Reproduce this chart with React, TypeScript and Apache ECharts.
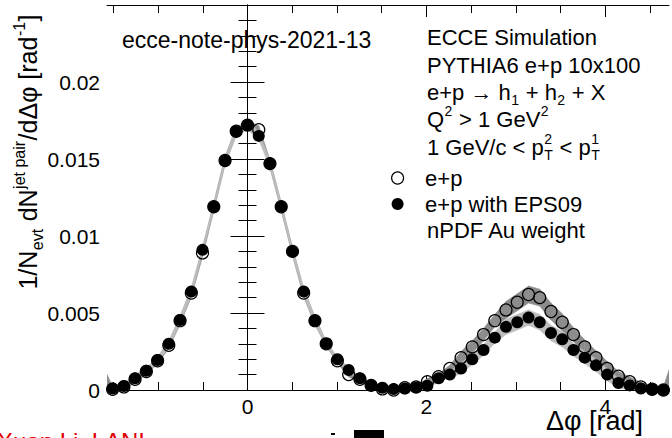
import React, { useEffect, useRef } from 'react';
import * as echarts from 'echarts';

// Δφ bin centres [rad]
const dphi = [
  -1.508, -1.382, -1.257, -1.131, -1.005, -0.880, -0.754, -0.628, -0.503, -0.377,
  -0.251, -0.126, 0.000, 0.126, 0.251, 0.377, 0.503, 0.628, 0.754, 0.880,
  1.005, 1.131, 1.257, 1.382, 1.508, 1.634, 1.759, 1.885, 2.011, 2.136,
  2.262, 2.388, 2.513, 2.639, 2.765, 2.890, 3.016, 3.142, 3.267, 3.393,
  3.519, 3.644, 3.770, 3.896, 4.021, 4.147, 4.273, 4.398, 4.524, 4.650,
];

// e+p (open circles)
const epY = [
  0.00005, 0.0002, 0.0007, 0.0012, 0.0019, 0.0029, 0.0045, 0.0063, 0.0089, 0.0119,
  0.0149, 0.0168, 0.0172, 0.0169, 0.0147, 0.0119, 0.0090, 0.0063, 0.0045, 0.0030,
  0.0019, 0.0010, 0.0007, 0.0003, 0.00007, 0.0, 0.00015, 0.0002, 0.00054, 0.00086,
  0.0014, 0.0021, 0.0028, 0.0036, 0.0045, 0.0052, 0.0057, 0.0062, 0.0060, 0.0051,
  0.0044, 0.0036, 0.0028, 0.0021, 0.0014, 0.0009, 0.00054, 0.0002, 0.00005, 0.0,
];

// e+p with EPS09 nPDF Au weight (filled circles)
const epsY = [
  0.0001, 0.00026, 0.00076, 0.00125, 0.00195, 0.0030, 0.00455, 0.0064, 0.0091, 0.0119,
  0.0149, 0.0168, 0.0172, 0.0165, 0.0147, 0.0119, 0.0090, 0.0064, 0.0045, 0.0030,
  0.0020, 0.0013, 0.00076, 0.00032, 0.00015, 0.00006, 0.0001, 0.00017, 0.00028, 0.00076,
  0.0010, 0.0014, 0.0020, 0.0026, 0.0034, 0.0041, 0.0044, 0.0047, 0.0044, 0.0037,
  0.0033, 0.0026, 0.0021, 0.0016, 0.0010, 0.00045, 0.0003, 0.0001, 0.00005, 0.0,
];

// half-widths of the grey uncertainty bands
const epBand = [
  0.0002, 0.0002, 0.0002, 0.0002, 0.0002, 0.0002, 0.00025, 0.00025, 0.00025, 0.00025,
  0.00025, 0.00025, 0.0003, 0.00025, 0.00025, 0.00025, 0.00025, 0.00025, 0.00025, 0.00015,
  0.00015, 0.00015, 0.00015, 0.00015, 0.0001, 0.0001, 0.0001, 0.0001, 0.0002, 0.0002,
  0.0002, 0.0004, 0.0004, 0.0004, 0.0004, 0.00055, 0.00055, 0.00055, 0.00055, 0.00055,
  0.00055, 0.00045, 0.00045, 0.00045, 0.00045, 0.0003, 0.0003, 0.0003, 0.0002, 0.0002,
];
const epsBand = [
  0.0002, 0.0002, 0.0002, 0.0002, 0.0002, 0.0002, 0.00025, 0.00025, 0.00025, 0.00025,
  0.00025, 0.00025, 0.0003, 0.00025, 0.00025, 0.00025, 0.00025, 0.00025, 0.00025, 0.00015,
  0.00015, 0.00015, 0.00015, 0.00015, 0.0001, 0.0001, 0.0001, 0.0001, 0.0002, 0.0002,
  0.0002, 0.00035, 0.00035, 0.00035, 0.00035, 0.0005, 0.0005, 0.0005, 0.0005, 0.0005,
  0.0005, 0.0004, 0.0004, 0.0004, 0.0004, 0.0003, 0.0003, 0.0003, 0.0002, 0.0002,
];
// band values at the histogram edges (Δφ = -π/2 and 3π/2): [x, low, high]
const bandEdgeLeft = [-1.5708, 0.0, 0.0010];
const bandEdgeRight = [4.7124, 0.0, 0.0013];

const xMajorTicks = [0, 2, 4];
const xMinorTicks = [-1.5, -1, -0.5, 0.5, 1, 1.5, 2.5, 3, 3.5, 4.5];
const yMin = 0;
const yMax = 0.025;
const yStep = 0.005;

const FONT = '"Liberation Sans", Arial, Helvetica, sans-serif';

let mctx: CanvasRenderingContext2D | null = null;
function measure(t: string, size: number): number {
  if (!mctx) mctx = document.createElement('canvas').getContext('2d');
  if (!mctx) return t.length * size * 0.55;
  mctx.font = `${size}px ${FONT}`;
  return mctx.measureText(t).width;
}

type Part = { t: string; k?: 'n' | 'sub' | 'sup' } | { sup: string; sub: string };

function layout(parts: Part[], x0: number, y0: number, size: number, small: number, dSub: number, dSup: number) {
  const els: any[] = [];
  let x = x0;
  const txt = (text: string, px: number, py: number, fs: number) => ({
    type: 'text',
    x: px,
    y: py,
    silent: true,
    style: { text, fontSize: fs, fontFamily: FONT, fill: '#000', align: 'left', verticalAlign: 'middle' },
  });
  for (const p of parts) {
    if ('sup' in p) {
      els.push(txt(p.sup, x + 0.5, y0 + dSup, small));
      els.push(txt(p.sub, x + 0.5, y0 + dSub, small));
      x += Math.max(measure(p.sup, small), measure(p.sub, small)) + 1;
    } else {
      const k = p.k || 'n';
      if (k === 'n') {
        els.push(txt(p.t, x, y0, size));
        x += measure(p.t, size);
      } else {
        els.push(txt(p.t, x + 0.5, y0 + (k === 'sub' ? dSub : dSup), small));
        x += measure(p.t, small) + 1;
      }
    }
  }
  return { els, width: x - x0 };
}

function buildGraphics() {
  const g: any[] = [];
  const X = 427;
  const S = 22;
  const s = 14;
  g.push({
    type: 'text', x: 122, y: 40, silent: true,
    style: { text: 'ecce-note-phys-2021-13', fontSize: 23, fontFamily: FONT, fill: '#000', align: 'left', verticalAlign: 'middle' },
  });
  const lines: [number, Part[]][] = [
    [37, [{ t: 'ECCE Simulation' }]],
    [65, [{ t: 'PYTHIA6 e+p 10x100' }]],
    [92, [{ t: 'e+p \u2192 h' }, { t: '1', k: 'sub' }, { t: ' + h' }, { t: '2', k: 'sub' }, { t: ' + X' }]],
    [119, [{ t: 'Q' }, { t: '2', k: 'sup' }, { t: ' > 1 GeV' }, { t: '2', k: 'sup' }]],
    [147, [{ t: '1 GeV/c < p' }, { sup: '2', sub: 'T' }, { t: ' < p' }, { sup: '1', sub: 'T' }]],
    [230, [{ t: 'nPDF Au weight' }]],
  ];
  for (const [y, parts] of lines) {
    g.push(...layout(parts, X, y, S, s, 8, -8).els);
  }
  const tparts: Part[] = [
    { t: '1/N' }, { t: 'evt', k: 'sub' }, { t: ' dN' }, { t: 'jet pair', k: 'sup' },
    { t: '/d\u0394\u03c6 [rad' }, { t: '-1', k: 'sup' }, { t: ']' },
  ];
  const first = layout(tparts, 0, 0, 25, 16, 9, -9);
  const t2 = layout(tparts, -first.width / 2, 0, 25, 16, 9, -9);
  g.push({ type: 'group', x: 28, y: 152, rotation: Math.PI / 2, children: t2.els });
  g.push({
    type: 'text', x: 643, y: 421, silent: true,
    style: { text: '\u0394\u03c6 [rad]', fontSize: 27, fontFamily: FONT, fill: '#000', align: 'right', verticalAlign: 'middle' },
  });
  g.push({
    type: 'text', x: -3, y: 429, silent: true,
    style: { text: 'Xuan Li, LANL', fontSize: 24, fontFamily: FONT, fill: '#e00000', align: 'left', verticalAlign: 'top' },
  });
  g.push({ type: 'rect', silent: true, shape: { x: 354, y: 430, width: 30, height: 12 }, style: { fill: '#000' } });
  g.push({ type: 'rect', silent: true, shape: { x: 331, y: 433, width: 4, height: 2 }, style: { fill: '#000' } });
  return g;
}

function bandSeries(ys: number[], half: number[], color: string, z: number, withEdges: boolean) {
  const bx: number[] = [];
  const lo: number[] = [];
  const hi: number[] = [];
  if (withEdges) { bx.push(bandEdgeLeft[0]); lo.push(bandEdgeLeft[1]); hi.push(bandEdgeLeft[2]); }
  dphi.forEach((x, i) => { bx.push(x); lo.push(ys[i] - half[i]); hi.push(ys[i] + half[i]); });
  if (withEdges) { bx.push(bandEdgeRight[0]); lo.push(bandEdgeRight[1]); hi.push(bandEdgeRight[2]); }
  return {
    type: 'custom',
    z,
    silent: true,
    clip: true,
    xAxisIndex: 0,
    yAxisIndex: 0,
    encode: { x: 0, y: [1, 2] },
    data: bx.map((x, i) => [x, lo[i], hi[i]]),
    renderItem: (params: any, api: any) => {
      const i = params.dataIndex;
      if (i >= bx.length - 1) return null;
      const pts = [
        api.coord([bx[i], lo[i]]),
        api.coord([bx[i + 1], lo[i + 1]]),
        api.coord([bx[i + 1], hi[i + 1]]),
        api.coord([bx[i], hi[i]]),
      ];
      return {
        type: 'polygon',
        shape: { points: pts },
        style: { fill: color, stroke: color, lineWidth: 0.6 },
      };
    },
  };
}

export default function App() {
  const ref = useRef<HTMLDivElement>(null);
  useEffect(() => {
    document.body.style.margin = '0';
    if (!ref.current) return;
    const chart = echarts.init(ref.current, null, { renderer: 'svg' });
    const xRange = { min: -Math.PI / 2, max: (3 * Math.PI) / 2 };
    const axisLineStyle = { show: true, lineStyle: { color: '#000', width: 1 } };
    const labelStyle = { color: '#000', fontSize: 21, fontFamily: FONT };
    const option: any = {
      animation: false,
      backgroundColor: '#fff',
      grid: { left: 107, right: 3, top: 5, bottom: 48, containLabel: false, outerBoundsMode: 'none' },
      xAxis: [
        {
          type: 'value', ...xRange, position: 'bottom',
          axisLine: axisLineStyle,
          axisTick: { show: true, inside: true, length: 14, customValues: xMajorTicks, lineStyle: { color: '#000' } },
          axisLabel: { show: true, customValues: xMajorTicks, margin: 6, ...labelStyle },
          splitLine: { show: false },
        },
        {
          type: 'value', ...xRange, position: 'bottom',
          axisLine: { show: false },
          axisTick: { show: true, inside: true, length: 8, customValues: xMinorTicks, lineStyle: { color: '#000' } },
          axisLabel: { show: false },
          splitLine: { show: false },
        },
        {
          type: 'value', ...xRange, position: 'top',
          axisLine: axisLineStyle,
          axisTick: { show: true, inside: true, length: 12, customValues: xMajorTicks, lineStyle: { color: '#000' } },
          axisLabel: { show: false },
          splitLine: { show: false },
        },
        {
          type: 'value', ...xRange, position: 'top',
          axisLine: { show: false },
          axisTick: { show: true, inside: true, length: 8, customValues: xMinorTicks, lineStyle: { color: '#000' } },
          axisLabel: { show: false },
          splitLine: { show: false },
        },
      ],
      yAxis: [
        {
          type: 'value', min: yMin, max: yMax, interval: yStep, position: 'left',
          axisLine: axisLineStyle,
          axisTick: { show: true, inside: true, length: 17, lineStyle: { color: '#000' } },
          minorTick: { show: true, splitNumber: 5, length: 9, lineStyle: { color: '#000' } },
          axisLabel: {
            show: true, margin: 7, ...labelStyle,
            formatter: (v: number) => (v > yMax - yStep / 10 ? '' : String(parseFloat(v.toFixed(4)))),
          },
          splitLine: { show: false },
          minorSplitLine: { show: false },
        },
        {
          type: 'value', min: yMin, max: yMax, interval: yStep, position: 'right',
          axisLine: axisLineStyle,
          axisTick: { show: true, inside: true, length: 17, lineStyle: { color: '#000' } },
          minorTick: { show: true, splitNumber: 5, length: 9, lineStyle: { color: '#000' } },
          axisLabel: { show: false },
          splitLine: { show: false },
        },
      ],
      legend: {
        show: true,
        orient: 'vertical',
        left: 391,
        top: 165,
        itemWidth: 45,
        itemHeight: 12,
        itemGap: 0,
        padding: 0,
        selectedMode: false,
        textStyle: { color: '#000', fontSize: 22, fontFamily: FONT, lineHeight: 26 },
        data: [
          { name: 'e+p', icon: 'circle', itemStyle: { color: 'rgba(0,0,0,0)', borderColor: '#000', borderWidth: 1.2 } },
          { name: 'e+p with EPS09', icon: 'circle', itemStyle: { color: '#000', borderWidth: 0 } },
        ],
      },
      graphic: buildGraphics(),
      series: [
        bandSeries(epY, epBand, '#8c8c8c', 1, true),
        bandSeries(epsY, epsBand, '#bdbdbd', 2, false),
        {
          name: 'e+p',
          type: 'scatter',
          z: 3,
          symbol: 'circle',
          symbolSize: 12,
          itemStyle: { color: 'rgba(0,0,0,0)', borderColor: '#000', borderWidth: 1.2, opacity: 1 },
          data: dphi.map((x, i) => [x, epY[i]]),
          clip: false,
        },
        {
          name: 'e+p with EPS09',
          type: 'scatter',
          z: 4,
          symbol: 'circle',
          symbolSize: 12,
          itemStyle: { color: '#000', opacity: 1 },
          data: dphi.map((x, i) => [x, epsY[i]]),
          clip: false,
        },
      ],
    };
    chart.setOption(option);
    return () => chart.dispose();
  }, []);
  return <div ref={ref} style={{ width: 672, height: 438 }} />;
}
